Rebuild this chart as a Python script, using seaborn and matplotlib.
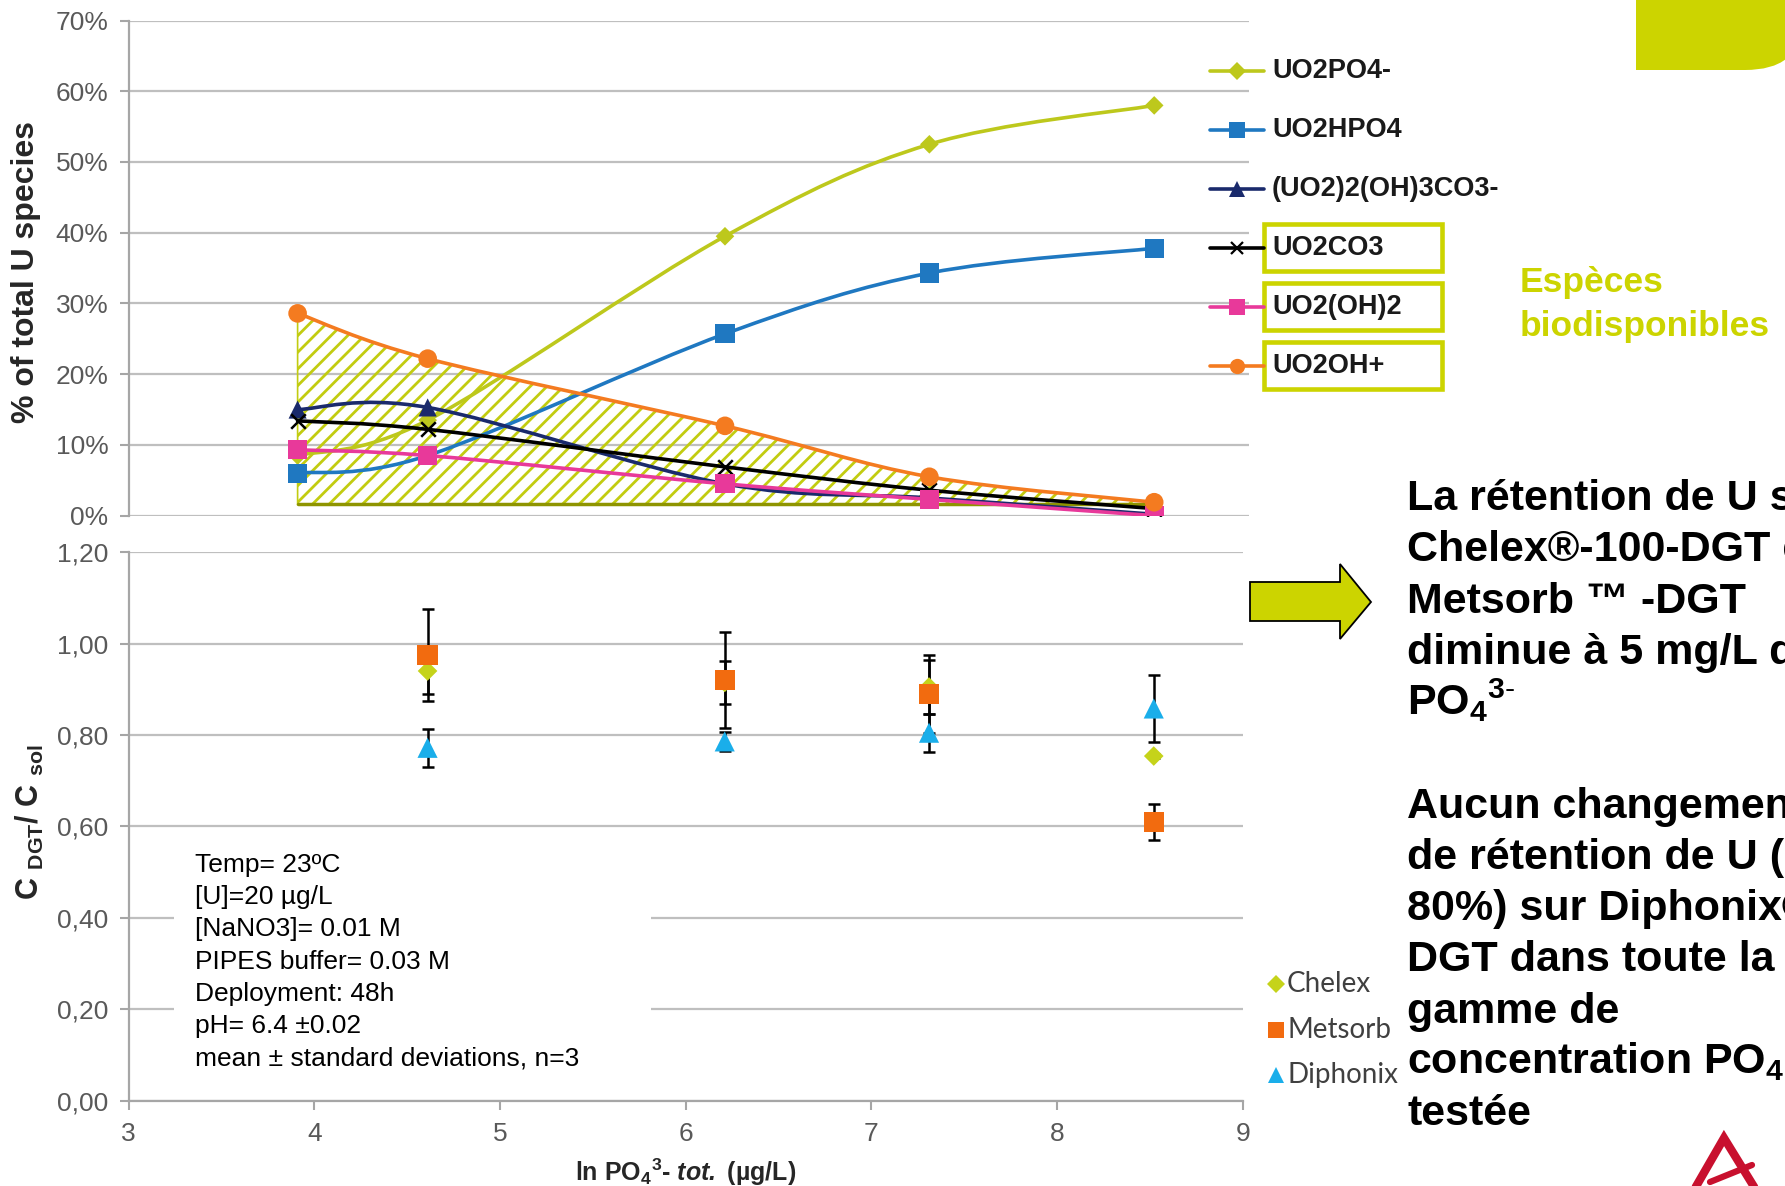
import numpy as np
import pandas as pd
import matplotlib
matplotlib.use("Agg")
import matplotlib.pyplot as plt
import seaborn as sns
from matplotlib.path import Path
from matplotlib.patches import PathPatch, Rectangle, Polygon
from matplotlib.lines import Line2D

# -------------------------
# Data
# -------------------------
ln_po4 = [3.91, 4.61, 6.21, 7.31, 8.52]          # ln PO4 3- tot (ug/L)
species = ["UO2PO4-", "UO2HPO4", "(UO2)2(OH)3CO3-", "UO2CO3", "UO2(OH)2", "UO2OH+"]
uo2po4 = [8.5, 13.5, 39.5, 52.5, 58.0]
uo2hpo4 = [6.0, 8.5, 25.7, 34.3, 37.8]
uo2_2oh3co3 = [15.0, 15.3, 4.5, 2.5, 0.2]
uo2co3 = [13.4, 12.2, 6.9, 3.6, 1.0]
uo2oh2 = [9.3, 8.5, 4.5, 2.3, 0.0]
uo2oh = [28.6, 22.2, 12.7, 5.5, 1.9]
hatch_floor = 1.6

ln_po4_dgt = [4.61, 6.21, 7.31, 8.52]
resins = ["Chelex", "Metsorb", "Diphonix"]
chelex = [0.94, 0.915, 0.905, 0.754]
chelex_sd = [0.05, 0.047, 0.06, 0.005]
metsorb = [0.975, 0.92, 0.89, 0.61]
metsorb_sd = [0.10, 0.105, 0.085, 0.04]
diphonix = [0.772, 0.786, 0.805, 0.858]
diphonix_sd = [0.042, 0.02, 0.042, 0.073]

top_yticks = [0, 10, 20, 30, 40, 50, 60, 70]
bot_yticks = [0.0, 0.2, 0.4, 0.6, 0.8, 1.0, 1.2]
xticks = [3, 4, 5, 6, 7, 8, 9]

conditions = ["Temp= 23ºC", "[U]=20 µg/L", "[NaNO3]= 0.01 M", "PIPES buffer= 0.03 M",
              "Deployment: 48h", "pH= 6.4 ±0.02", "mean ± standard deviations, n=3"]

# -------------------------
# Style
# -------------------------
sns.set_style("white")
plt.rcParams['font.family'] = ['Liberation Sans', 'DejaVu Sans']
plt.rcParams['mathtext.fontset'] = 'custom'
plt.rcParams['mathtext.rm'] = 'Liberation Sans'
plt.rcParams['mathtext.it'] = 'Liberation Sans:italic'
plt.rcParams['mathtext.bf'] = 'Liberation Sans:bold'
try:
    plt.rcParams['mathtext.bfit'] = 'Liberation Sans:italic:bold'
except KeyError:
    pass
plt.rcParams['hatch.linewidth'] = 2.0

LIME = '#CCD400'
GRID = '#BFBFBF'
TICKC = '#595959'
sp_colors = ['#BDC81C', '#1F78C1', '#1A2A6C', '#000000', '#E8399A', '#F47B20']
sp_markers = ['D', 's', '^', 'x', 's', 'o']
sp_sizes = [90, 190, 170, 110, 190, 180]
rs_colors = ['#C5D31A', '#F26B0F', '#1AAEEA']
rs_markers = ['D', 's', '^']


def smooth_path(x, y):
    # Excel-like smoothed line (Catmull-Rom as cubic Bezier)
    pts = np.column_stack([x, y]).astype(float)
    n = len(pts)
    verts = [pts[0]]
    codes = [Path.MOVETO]
    for i in range(n - 1):
        p0 = pts[i - 1] if i > 0 else pts[i]
        p1, p2 = pts[i], pts[i + 1]
        p3 = pts[i + 2] if i + 2 < n else pts[i + 1]
        verts += [p1 + (p2 - p0) / 6, p2 - (p3 - p1) / 6, p2]
        codes += [Path.CURVE4] * 3
    return verts, codes


def style_axis(ax):
    ax.set_axisbelow(True)
    ax.yaxis.grid(True, color=GRID, lw=1.6)
    ax.xaxis.grid(False)
    for s in ['top', 'right', 'bottom']:
        ax.spines[s].set_visible(False)
    ax.spines['left'].set_color('#A6A6A6')
    ax.spines['left'].set_linewidth(1.6)
    ax.tick_params(axis='y', length=6.5, width=1.5, color='#A6A6A6', left=True,
                   labelsize=19, labelcolor=TICKC, pad=8)


fig = plt.figure(figsize=(17.85, 11.86), dpi=100)

# -------------------------
# Top: U speciation
# -------------------------
ax1 = fig.add_axes([0.0720, 0.5652, 0.6277, 0.4175])
style_axis(ax1)
ax1.set_xlim(3, 9.03)
ax1.set_ylim(0, 70)
ax1.set_yticks(top_yticks)
ax1.set_yticklabels([f"{v}%" for v in top_yticks])
ax1.set_xticks([])

# hatched "bioavailable" area under the UO2OH+ curve
v, c = smooth_path(ln_po4, uo2oh)
v = v + [np.array([ln_po4[-1], hatch_floor]), np.array([ln_po4[0], hatch_floor]), v[0]]
c = c + [Path.LINETO, Path.LINETO, Path.CLOSEPOLY]
ax1.add_patch(PathPatch(Path(v, c), facecolor='none', edgecolor='#C2CC10', hatch='//', lw=1.2, zorder=1))
ax1.plot([ln_po4[0], ln_po4[-1]], [hatch_floor, hatch_floor], color='#8E9400', lw=2.5, zorder=1.5)

series = [uo2po4, uo2hpo4, uo2_2oh3co3, uo2co3, uo2oh2, uo2oh]
for vals, col, mk, sz in zip(series, sp_colors, sp_markers, sp_sizes):
    v, c = smooth_path(ln_po4, vals)
    ax1.add_patch(PathPatch(Path(v, c), facecolor='none', edgecolor=col, lw=2.6,
                            capstyle='round', joinstyle='round', zorder=2))
    if mk == 'x':
        sns.scatterplot(x=ln_po4, y=vals, marker=mk, color=col, s=sz, linewidth=1.8, ax=ax1, zorder=3)
    else:
        sns.scatterplot(x=ln_po4, y=vals, marker=mk, color=col, s=sz, edgecolor='none', ax=ax1, zorder=3)
ax1.set_xlabel('')
ax1.set_ylabel('')

# -------------------------
# Bottom: C_DGT / C_sol
# -------------------------
ax2 = fig.add_axes([0.0720, 0.0718, 0.6243, 0.4627])
style_axis(ax2)
ax2.spines['bottom'].set_visible(True)
ax2.spines['bottom'].set_color('#A6A6A6')
ax2.spines['bottom'].set_linewidth(1.6)
ax2.set_xlim(3, 9)
ax2.set_ylim(0, 1.2)
ax2.set_yticks(bot_yticks)
ax2.set_yticklabels([f"{v:.2f}".replace('.', ',') for v in bot_yticks])
ax2.set_xticks(xticks)
ax2.tick_params(axis='x', bottom=True, length=6.5, width=1.5, color='#A6A6A6',
                labelsize=19, labelcolor=TICKC, pad=9)

for vals, sd in zip([chelex, metsorb, diphonix], [chelex_sd, metsorb_sd, diphonix_sd]):
    ax2.errorbar(ln_po4_dgt, vals, yerr=sd, fmt='none', ecolor='black', elinewidth=1.8,
                 capsize=4.5, capthick=1.8, zorder=2)
for vals, col, mk, sz in zip([chelex, metsorb, diphonix], rs_colors, rs_markers, [100, 210, 210]):
    sns.scatterplot(x=ln_po4_dgt, y=vals, marker=mk, color=col, s=sz, edgecolor='none', ax=ax2, zorder=3)
ax2.set_xlabel('')
ax2.set_ylabel('')

# -------------------------
# Slide decorations (pixel overlay)
# -------------------------
ov = fig.add_axes([0, 0, 1, 1], zorder=10)
ov.set_xlim(0, 1785)
ov.set_ylim(1186, 0)
ov.axis('off')
ov.patch.set_alpha(0)

# axis labels
ov.text(26, 272, "% of total U species", rotation=90, ha='center', va='center',
        fontsize=23, fontweight='bold', color='#262626')
ov.text(30, 822, r"C $_\mathbf{DGT}$/ C $_\mathbf{sol}$", rotation=90, ha='center', va='center',
        fontsize=22, fontweight='bold', color='#262626')
ov.text(686, 1172, r"ln PO$_\mathbf{4}$$^\mathbf{3}$- $\mathbfit{tot.}$ (µg/L)", ha='center', va='center',
        fontsize=18, fontweight='bold', color='#262626')

# conditions box
ov.add_patch(Rectangle((174, 840), 477, 245, facecolor='white', edgecolor='none'))
for i, line in enumerate(conditions):
    ov.text(195, 865 + 32.2 * i, line, ha='left', va='center', fontsize=19, color='black')

# top legend
for i, (name, col, mk) in enumerate(zip(species, sp_colors, sp_markers)):
    y = 71 + 59 * i
    ov.add_line(Line2D([1210, 1264], [y, y], color=col, lw=2.6))
    ms = 9 if mk in ('D', 'x') else 11
    ov.add_line(Line2D([1237], [y], marker=mk, color=col, markersize=ms,
                       markeredgewidth=1.6 if mk == 'x' else 0))
    ov.text(1272, y, name, ha='left', va='center', fontsize=19.5, fontweight='bold', color='#1A1A1A')
for y in [248, 307, 366]:
    ov.add_patch(Rectangle((1264, y - 24), 178, 47, facecolor='none', edgecolor=LIME, lw=3.3))

# bottom legend
for i, (name, col, mk) in enumerate(zip(resins, rs_colors, rs_markers)):
    y = 984 + 45.5 * i
    ov.add_line(Line2D([1276], [y], marker=mk, color=col, markersize=9 if mk == 'D' else 12,
                       markeredgewidth=0))
    ov.text(1287, y, name, ha='left', va='center', fontsize=20, family='Lato', color='#404040')

# "Espèces biodisponibles"
ov.text(1520, 292, "Espèces", ha='left', va='baseline', fontsize=25.5, fontweight='bold', color=LIME)
ov.text(1520, 336, "biodisponibles", ha='left', va='baseline', fontsize=25.5, fontweight='bold', color=LIME)

# top-right tab
tab = Path([(1636, -5), (1636, 70), (1745, 70), (1800, 70), (1800, 25), (1800, -5), (1636, -5)],
           [Path.MOVETO, Path.LINETO, Path.LINETO, Path.CURVE3, Path.CURVE3, Path.LINETO, Path.CLOSEPOLY])
ov.add_patch(PathPatch(tab, facecolor=LIME, edgecolor='none'))

# arrow
ov.add_patch(Polygon([(1250, 582), (1340, 582), (1340, 564), (1371, 602), (1340, 639),
                      (1340, 621), (1250, 621)], closed=True, facecolor=LIME, edgecolor='black', lw=1.3))

# conclusions (cut by the slide edge, as in the original)
conclusions = [
    ("La rétention de U sur", 510), ("Chelex®-100-DGT et", 561), ("Metsorb ™ -DGT", 613),
    ("diminue à 5 mg/L de", 664), (r"PO$_\mathbf{4}$$^\mathbf{3\text{-}}$", 715),
    ("Aucun changement", 818), ("de rétention de U (~", 869), ("80%) sur Diphonix®-", 920),
    ("DGT dans toute la", 971), ("gamme de", 1023),
    (r"concentration PO$_\mathbf{4}$$^\mathbf{3\text{-}}$", 1074), ("testée", 1125),
]
for txt, yb in conclusions:
    ov.text(1407, yb, txt, ha='left', va='baseline', fontsize=31, fontweight='bold', color='black')

# logo fragment
ov.add_line(Line2D([1694, 1724, 1756], [1190, 1138, 1190], color='#C8102E', lw=6, solid_joinstyle='miter'))
ov.add_line(Line2D([1710, 1752], [1182, 1165], color='#C8102E', lw=4.5))

fig.savefig("out.png", dpi=100)
